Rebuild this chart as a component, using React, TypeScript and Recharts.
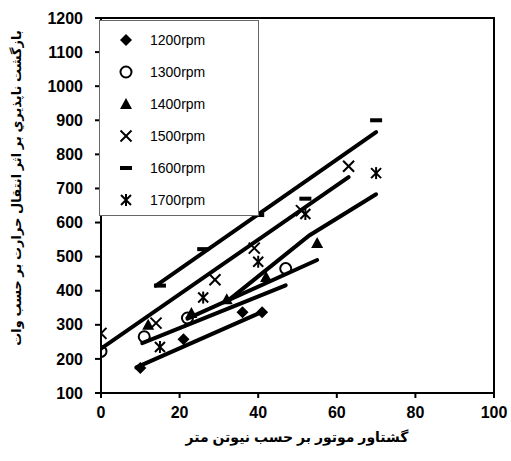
import React from "react";
import { ComposedChart, Scatter, Line, XAxis, YAxis, Legend, ReferenceArea, Label } from "recharts";

// measured points, x = torque (N.m), y = irreversibility (W)
const rpmLabels = ["1200rpm", "1300rpm", "1400rpm", "1500rpm", "1600rpm", "1700rpm"];
const markerKinds = ["diamond", "circle", "triangle", "cross", "dash", "star"];

const torque1200 = [10, 21, 36, 41];
const loss1200 = [173, 258, 337, 337];
const torque1300 = [0, 11, 22, 47];
const loss1300 = [222, 265, 320, 465];
const torque1400 = [12, 23, 32, 42, 55];
const loss1400 = [300, 335, 375, 440, 540];
const torque1500 = [0, 14, 29, 39, 51, 63];
const loss1500 = [275, 305, 432, 525, 635, 765];
const torque1600 = [15, 26, 40, 52, 70];
const loss1600 = [415, 522, 622, 670, 900];
const torque1700 = [15, 26, 40, 52, 70];
const loss1700 = [235, 380, 485, 625, 745];

// trend lines as drawn in the figure
const trendAx = [14, 70];
const trendAy = [415, 865];
const trendBx = [0, 63];
const trendBy = [230, 733];
const trendCx = [32, 53, 70];
const trendCy = [368, 562, 683];
const trendDx = [22, 55];
const trendDy = [318, 490];
const trendEx = [10.5, 47];
const trendEy = [246, 416];
const trendFx = [9, 41];
const trendFy = [175, 338];

const xTicks = [0, 20, 40, 60, 80, 100];
const yTicks = [100, 200, 300, 400, 500, 600, 700, 800, 900, 1000, 1100, 1200];

const zip = (xs: number[], ys: number[]) => xs.map((x, i) => ({ x, y: ys[i] }));

const series = [
  zip(torque1200, loss1200),
  zip(torque1300, loss1300),
  zip(torque1400, loss1400),
  zip(torque1500, loss1500),
  zip(torque1600, loss1600),
  zip(torque1700, loss1700),
];

const trends = [
  zip(trendAx, trendAy),
  zip(trendBx, trendBy),
  zip(trendCx, trendCy),
  zip(trendDx, trendDy),
  zip(trendEx, trendEy),
  zip(trendFx, trendFy),
];

const FONT = "'Liberation Sans', Arial, 'DejaVu Sans', sans-serif";

function drawMarker(kind: string, cx: number, cy: number) {
  switch (kind) {
    case "diamond":
      return <polygon points={`${cx},${cy - 6} ${cx + 6},${cy} ${cx},${cy + 6} ${cx - 6},${cy}`} fill="#000" />;
    case "circle":
      return <circle cx={cx} cy={cy} r={5.5} fill="none" stroke="#000" strokeWidth={2} />;
    case "triangle":
      return <polygon points={`${cx},${cy - 6} ${cx + 6},${cy + 5} ${cx - 6},${cy + 5}`} fill="#000" />;
    case "cross":
      return (
        <g stroke="#000" strokeWidth={2}>
          <line x1={cx - 5.5} y1={cy - 5.5} x2={cx + 5.5} y2={cy + 5.5} />
          <line x1={cx - 5.5} y1={cy + 5.5} x2={cx + 5.5} y2={cy - 5.5} />
        </g>
      );
    case "dash":
      return <rect x={cx - 6} y={cy - 2} width={12} height={4} fill="#000" />;
    default:
      return (
        <g stroke="#000" strokeWidth={2}>
          <line x1={cx - 5} y1={cy - 5} x2={cx + 5} y2={cy + 5} />
          <line x1={cx - 5} y1={cy + 5} x2={cx + 5} y2={cy - 5} />
          <line x1={cx} y1={cy - 6} x2={cx} y2={cy + 6} />
        </g>
      );
  }
}

const LegendBox = () => (
  <div
    style={{
      width: 160,
      height: 196,
      boxSizing: "border-box",
      background: "#fff",
      border: "1px solid #666",
      paddingTop: 3,
      fontFamily: FONT,
      fontSize: 14,
      color: "#000",
    }}
  >
    {rpmLabels.map((name, i) => (
      <div key={name} style={{ display: "flex", alignItems: "center", height: 32 }}>
        <svg width={50} height={16} style={{ flexShrink: 0 }}>
          {drawMarker(markerKinds[i], 26, 8)}
        </svg>
        <span>{name}</span>
      </div>
    ))}
  </div>
);

export default function App() {
  return (
    <div style={{ position: "absolute", left: 0, top: 0, width: 511, height: 461, background: "#fff" }}>
      <ComposedChart width={511} height={461} margin={{ top: 18, right: 17, left: 0, bottom: 0 }}>
        <XAxis
          type="number"
          dataKey="x"
          domain={[0, 100]}
          ticks={xTicks}
          allowDataOverflow
          height={68}
          stroke="#000"
          strokeWidth={2}
          tickSize={5}
          tickMargin={9}
          tick={{ fill: "#000", fontSize: 16, fontWeight: "bold", fontFamily: FONT }}
        >
          <Label
            content={() => (
              <text x={297} y={442} textAnchor="middle" fontSize={14} fontWeight="bold" fontFamily={FONT} fill="#000">
                گشتاور موتور بر حسب نيوتن متر
              </text>
            )}
          />
        </XAxis>
        <YAxis
          type="number"
          dataKey="y"
          domain={[100, 1200]}
          ticks={yTicks}
          allowDataOverflow
          width={101}
          stroke="#000"
          strokeWidth={2}
          tickSize={6}
          tickMargin={12}
          tick={{ fill: "#000", fontSize: 16, fontWeight: "bold", fontFamily: FONT }}
        >
          <Label
            content={() => (
              <text
                transform="translate(21,188) rotate(-90)"
                textAnchor="middle"
                fontSize={13}
                fontWeight="bold"
                fontFamily={FONT}
                fill="#000"
              >
                بازگشت ناپذيري بر اثر انتقال حرارت بر حسب وات
              </text>
            )}
          />
        </YAxis>
        <ReferenceArea x1={0} x2={100} y1={100} y2={1200} fill="none" stroke="#000" strokeWidth={2} />
        {series.map((pts, i) => (
          <Scatter
            key={rpmLabels[i]}
            name={rpmLabels[i]}
            data={pts}
            dataKey="y"
            isAnimationActive={false}
            shape={(p: any) => drawMarker(markerKinds[i], p.cx, p.cy)}
          />
        ))}
        {trends.map((pts, i) => (
          <Line
            key={"trend" + i}
            data={pts}
            dataKey="y"
            type="linear"
            stroke="#000"
            strokeWidth={4}
            strokeLinecap="round"
            dot={false}
            activeDot={false}
            legendType="none"
            isAnimationActive={false}
          />
        ))}
        <Legend
          layout="vertical"
          align="center"
          verticalAlign="middle"
          content={() => <LegendBox />}
          wrapperStyle={{ left: 99, top: 20, width: 160, height: 196 }}
        />
      </ComposedChart>
    </div>
  );
}
